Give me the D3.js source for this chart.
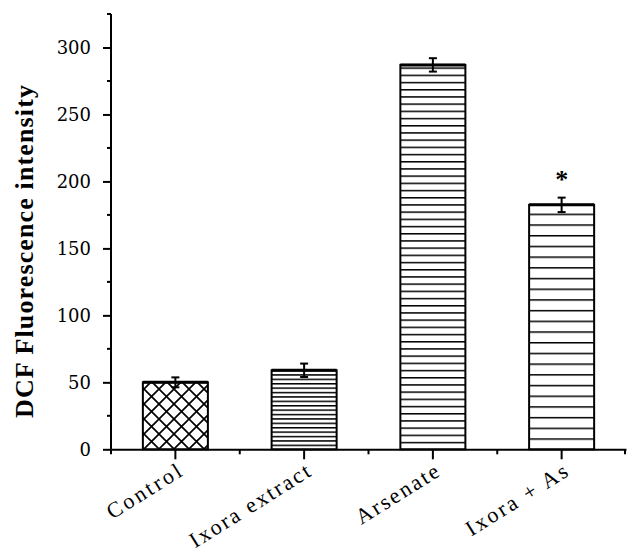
<!DOCTYPE html>
<html>
<head>
<meta charset="utf-8">
<script src="https://cdn.jsdelivr.net/npm/d3@7"></script>
<style>
  body { margin: 0; background: #fff; }
  svg { display: block; }
</style>
</head>
<body>
<div id="chart"></div>
<script>
// data
const groups = ["Control", "Ixora extract", "Arsenate", "Ixora + As"];
const means = [50, 59, 287, 182.5];
const errors = [3.7, 5, 5, 5.4];
const significant = [false, false, false, true];
const yTicks = [0, 50, 100, 150, 200, 250, 300];

// fill styles per bar (cross hatch / horizontal lines with their spacing)
const fills = ["cross", "hl4", "hl7", "hl11"];

const width = 627, height = 554;
const margin = {top: 14, right: 1, bottom: 105, left: 111};

const svg = d3.select("#chart").append("svg")
    .attr("width", width)
    .attr("height", height);

// hatch patterns
const defs = svg.append("defs");
let cross = defs.append("pattern")
    .attr("id", "cross")
    .attr("patternUnits", "userSpaceOnUse")
    .attr("width", 15).attr("height", 15)
    .attr("x", 144).attr("y", 449);
cross.append("rect").attr("width", 15).attr("height", 15).attr("fill", "#fff");
cross.append("path")
    .attr("d", "M0,0L15,15M15,0L0,15M-2,13L2,17M13,-2L17,2M-2,2L2,-2M13,17L17,13")
    .attr("stroke", "#000").attr("stroke-width", 1.7);

[["hl4", 4.4], ["hl7", 7.2], ["hl11", 10.7]].forEach(([id, step]) => {
    let p = defs.append("pattern")
        .attr("id", id)
        .attr("patternUnits", "userSpaceOnUse")
        .attr("width", 20).attr("height", step)
        .attr("y", 449);
    p.append("rect").attr("width", 20).attr("height", step).attr("fill", "#fff");
    p.append("line")
        .attr("x1", 0).attr("x2", 20)
        .attr("y1", 0.75).attr("y2", 0.75)
        .attr("stroke", "#000").attr("stroke-width", 1.5);
});

// scales
const x = d3.scaleBand()
    .domain(groups)
    .range([margin.left, width - margin.right])
    .paddingInner(0)
    .paddingOuter(0);

const y = d3.scaleLinear()
    .domain([0, 325])
    .range([height - margin.bottom + 0.3, margin.top]);

const barW = x.bandwidth() * 0.505;

// bars
svg.append("g").selectAll("rect")
    .data(groups)
    .enter().append("rect")
    .attr("x", d => x(d) + (x.bandwidth() - barW) / 2)
    .attr("y", (d, i) => y(means[i]))
    .attr("width", barW)
    .attr("height", (d, i) => y(0) - y(means[i]))
    .attr("fill", (d, i) => "url(#" + fills[i] + ")")
    .attr("stroke", "#000")
    .attr("stroke-width", 2);

// thicker top edges
svg.append("g").selectAll("line")
    .data(groups)
    .enter().append("line")
    .attr("x1", d => x(d) + (x.bandwidth() - barW) / 2)
    .attr("x2", d => x(d) + (x.bandwidth() + barW) / 2)
    .attr("y1", (d, i) => y(means[i]))
    .attr("y2", (d, i) => y(means[i]))
    .attr("stroke", "#000")
    .attr("stroke-width", 3);

// error bars
const err = svg.append("g").attr("stroke", "#000").attr("stroke-width", 2);
groups.forEach((g, i) => {
    let cx = x(g) + x.bandwidth() / 2;
    let top = y(means[i] + errors[i]), bot = y(means[i] - errors[i]);
    err.append("line").attr("x1", cx).attr("x2", cx).attr("y1", top).attr("y2", bot);
    err.append("line").attr("x1", cx - 4).attr("x2", cx + 4).attr("y1", top).attr("y2", top);
    err.append("line").attr("x1", cx - 4).attr("x2", cx + 4).attr("y1", bot).attr("y2", bot);
});

// significance star
svg.append("g").selectAll("text")
    .data(groups.filter((g, i) => significant[i]))
    .enter().append("text")
    .attr("x", d => x(d) + x.bandwidth() / 2)
    .attr("y", d => y(means[groups.indexOf(d)] + errors[groups.indexOf(d)]) - 10)
    .attr("text-anchor", "middle")
    .attr("font-family", "Liberation Serif")
    .attr("font-weight", "bold")
    .attr("font-size", 26)
    .text("*");

// y axis
const yAxis = svg.append("g")
    .attr("transform", "translate(" + margin.left + ",0)")
    .call(d3.axisLeft(y).tickValues(yTicks).tickSize(8).tickPadding(12).tickSizeOuter(0));
yAxis.select(".domain").remove();
yAxis.selectAll(".tick line").attr("stroke-width", 2);
yAxis.selectAll(".tick text")
    .attr("font-family", "'DejaVu Serif', serif")
    .attr("font-size", 18)
    .attr("fill", "#000");

// minor y ticks
svg.append("g").selectAll("line")
    .data(d3.range(25, 330, 50))
    .enter().append("line")
    .attr("x1", margin.left - 4).attr("x2", margin.left)
    .attr("y1", d => y(d)).attr("y2", d => y(d))
    .attr("stroke", "#000").attr("stroke-width", 2);

svg.append("line")
    .attr("x1", margin.left).attr("x2", margin.left)
    .attr("y1", y(325)).attr("y2", y(0))
    .attr("stroke", "#000").attr("stroke-width", 2);

// x axis
const xAxis = svg.append("g")
    .attr("transform", "translate(0," + y(0) + ")")
    .call(d3.axisBottom(x).tickSize(10).tickSizeOuter(0).tickFormat(""));
xAxis.select(".domain").attr("stroke-width", 2);
xAxis.selectAll(".tick line").attr("stroke-width", 2);

// minor x ticks at band edges
svg.append("g").selectAll("line")
    .data(groups.map(g => x(g)).concat([x.range()[1] - 1]))
    .enter().append("line")
    .attr("x1", d => d).attr("x2", d => d)
    .attr("y1", y(0)).attr("y2", y(0) + 5)
    .attr("stroke", "#000").attr("stroke-width", 2);

// rotated category labels
const labelLen = [84, 138, 94, 116];
svg.append("g").selectAll("text")
    .data(groups)
    .enter().append("text")
    .attr("transform", d => "translate(" + (x(d) + x.bandwidth() / 2 + 8) + "," + (y(0) + 26) + ") rotate(-32)")
    .attr("text-anchor", "end")
    .attr("font-family", "Liberation Serif")
    .attr("font-size", 22)
    .attr("textLength", (d, i) => labelLen[i])
    .attr("lengthAdjust", "spacing")
    .text(d => d);

// y axis title
svg.append("text")
    .attr("transform", "translate(33,251.5) rotate(-90)")
    .attr("text-anchor", "middle")
    .attr("font-family", "Liberation Serif")
    .attr("font-weight", "bold")
    .attr("font-size", 26)
    .attr("textLength", 333)
    .attr("lengthAdjust", "spacing")
    .text("DCF Fluorescence intensity");
</script>
</body>
</html>
